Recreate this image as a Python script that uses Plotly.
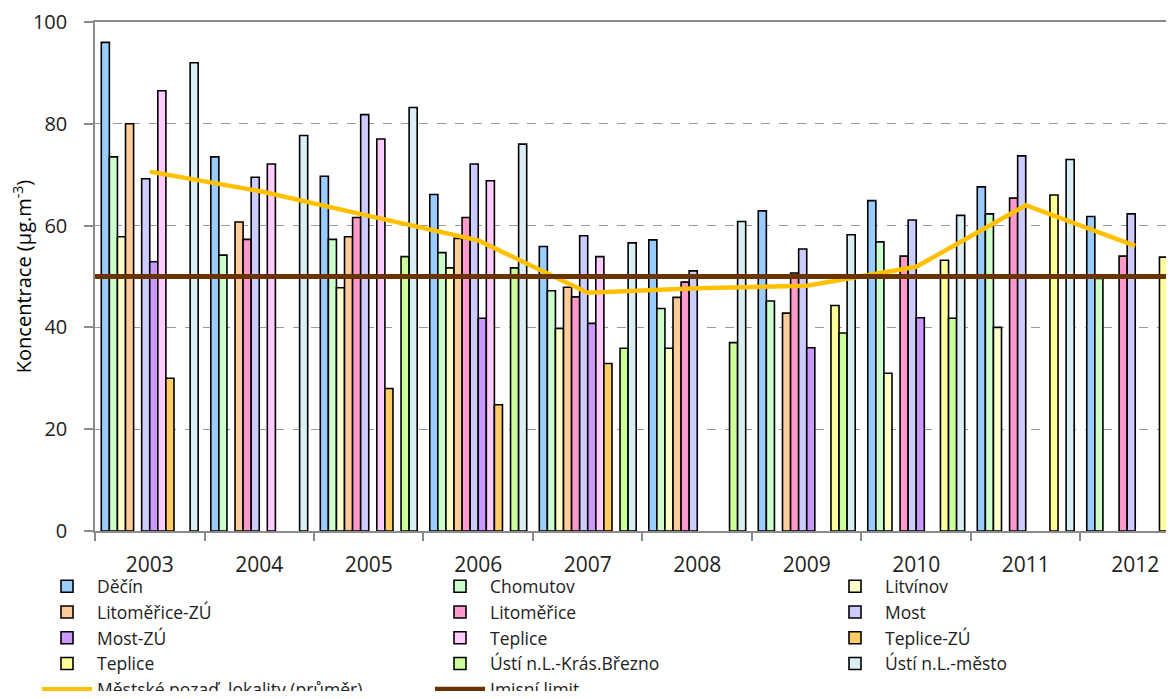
import plotly.graph_objects as go

YEARS = [2003, 2004, 2005, 2006, 2007, 2008, 2009, 2010, 2011, 2012]

SERIES_NAMES = ["Děčín", "Chomutov", "Litvínov", "Litoměřice-ZÚ", "Litoměřice", "Most",
                "Most-ZÚ", "Teplice", "Teplice-ZÚ", "Teplice", "Ústí n.L.-Krás.Březno",
                "Ústí n.L.-město"]

decin = [96, 73.5, 69.7, 66.1, 55.9, 57.2, 62.9, 64.9, 67.6, 61.8]
chomutov = [73.5, 54.2, 57.3, 54.7, 47.2, 43.7, 45.2, 56.8, 62.3, 49.6]
litvinov = [57.8, None, 47.8, 51.7, 39.8, 35.9, None, 31, 40, None]
litomerice_zu = [80, 60.7, 57.8, 57.5, 47.9, 45.9, 42.8, None, None, None]
litomerice = [None, 57.3, 61.6, 61.6, 46, 48.9, 50.7, 54, 65.4, 54]
most = [69.2, 69.5, 81.8, 72.1, 58, 51.1, 55.4, 61.1, 73.7, 62.3]
most_zu = [52.9, None, None, 41.8, 40.8, None, 36, 41.9, None, None]
teplice_a = [86.5, 72.1, 77, 68.8, 53.9, None, None, None, None, None]
teplice_zu = [30, None, 28, 24.8, 32.9, None, None, None, None, None]
teplice_b = [None, None, None, None, None, None, 44.3, 53.2, 66, 53.8]
usti_kras = [None, None, 53.9, 51.7, 35.9, 37, 38.9, 41.8, None, None]
usti_mesto = [92, 77.7, 83.2, 76, 56.6, 60.8, 58.2, 62, 73, 55.1]

AVERAGE = [70.6, 66.8, 61.9, 57.1, 46.8, 47.7, 48.2, 51.9, 64, 56]
LIMIT = 50

AVG_NAME = "Městské pozaď. lokality (průměr)"
LIMIT_NAME = "Imisní limit"
Y_TITLE = "Koncentrace (µg.m<sup>-3</sup>)"
Y_TICKS = [0, 20, 40, 60, 80, 100]

COLORS = ["#99CCFF", "#CCFFCC", "#FFFFCC", "#FFCC99", "#FF99CC", "#CCCCFF",
          "#CC99FF", "#FFCCFF", "#FFCC66", "#FFFF99", "#CCFF99", "#DAEEF3"]

values = [decin, chomutov, litvinov, litomerice_zu, litomerice, most, most_zu,
          teplice_a, teplice_zu, teplice_b, usti_kras, usti_mesto]

FONT = "Open Sans"
TXT = "#222222"
LEG_NAMES = ["legend", "legend2", "legend3"]

x_range = [YEARS[0] - 0.5, YEARS[0] - 0.5 + 9.781]

fig = go.Figure()
for i, (name, vals, col) in enumerate(zip(SERIES_NAMES, values, COLORS)):
    fig.add_trace(go.Bar(
        x=YEARS, y=vals, name=name, legend=LEG_NAMES[i % 3],
        marker=dict(color=col, line=dict(color="black", width=1.6)),
    ))

fig.add_trace(go.Scatter(
    x=YEARS, y=AVERAGE, name=AVG_NAME, mode="lines", legend="legend",
    line=dict(color="#FFC000", width=4.5),
))
fig.add_trace(go.Scatter(
    x=x_range, y=[LIMIT, LIMIT], name=LIMIT_NAME, mode="lines", legend="legend2",
    line=dict(color="#6B3300", width=5),
))

leg_common = dict(
    orientation="v", y=-0.0735, xanchor="left", yanchor="top",
    itemwidth=50, font=dict(family=FONT, size=17.5, color=TXT),
    tracegroupgap=0, traceorder="normal", bgcolor="rgba(0,0,0,0)",
)

plot_w = 1071
fig.update_layout(
    width=1158, height=683,
    paper_bgcolor="white", plot_bgcolor="white",
    barmode="group", bargap=0.115, bargroupgap=0,
    margin=dict(l=87, r=0, t=14, b=160, autoexpand=False),
    font=dict(family=FONT, size=18, color=TXT),
    showlegend=True,
    legend=dict(x=-58 / plot_w, **leg_common),
    legend2=dict(x=335 / plot_w, **leg_common),
    legend3=dict(x=730 / plot_w, **leg_common),
    xaxis=dict(
        range=x_range, tickmode="array", tickvals=YEARS,
        ticktext=[str(y) for y in YEARS], ticks="",
        showline=True, linecolor="#8a8a8a", linewidth=1.5, mirror=True,
        showgrid=False, zeroline=False,
        ticklabelstandoff=14,
        tickfont=dict(family=FONT, size=21, color=TXT),
        minor=dict(tickmode="array", tickvals=[y - 0.5 for y in YEARS],
                   ticks="outside", ticklen=8, tickcolor="#8a8a8a", tickwidth=1.5,
                   showgrid=False),
    ),
    yaxis=dict(
        range=[0, 100], tickmode="array", tickvals=Y_TICKS,
        ticks="outside", ticklen=9, tickcolor="#8a8a8a", tickwidth=1.5,
        showline=True, linecolor="#8a8a8a", linewidth=1.5,
        showgrid=True, gridcolor="#9a9a9a", griddash="dash", gridwidth=1,
        zeroline=False, ticklabelstandoff=13,
        tickfont=dict(family=FONT, size=20, color=TXT),
        title=dict(text=Y_TITLE, standoff=3,
                   font=dict(family=FONT, size=20, color="#000")),
    ),
)

fig.write_html("out.html")
